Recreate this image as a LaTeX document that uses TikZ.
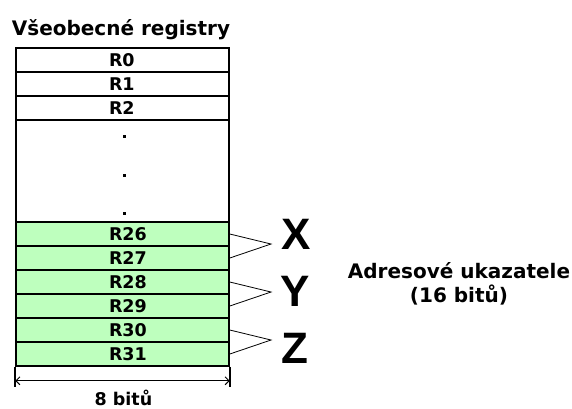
\documentclass[tikz,border=0pt]{standalone}
\usepackage{fontspec}
\setmainfont{DejaVu Sans}
\newfontfamily\bigletters{Liberation Sans}
\usepackage{tikz}
\usetikzlibrary{arrows.meta, positioning}
\definecolor{regfill}{RGB}{190,255,190}

\begin{document}
\begin{tikzpicture}[x=1pt, y=-1pt, line width=1.6pt,
        regbox/.style={draw, minimum width=213pt, minimum height=24pt, inner sep=0pt},
        reglabel/.style={anchor=west, inner sep=0pt, font=\fontsize{17.5}{20}\selectfont\bfseries},
        heading/.style={inner sep=0pt, font=\fontsize{20}{24}\selectfont\bfseries},
        pointer/.style={line width=0.8pt},
        letter/.style={inner sep=0pt, font=\fontsize{44}{48}\selectfont\bigletters\bfseries}]
    \useasboundingbox (0,0) rectangle (572,408);
    \node[heading, anchor=base] (title) at (121,35) {Všeobecné registry};
    % R0--R2 and the gap
    \foreach \n/\y in {0/60, 1/84, 2/108} {
        \node[regbox] (r\n) at (122.5,\y) {};
        \node[reglabel] (l\n) at ([xshift=93pt]r\n.west) {R\n};
    }
    \node[regbox, minimum height=102pt] (gap) at (122.5,171) {};
    \foreach \y in {136.5, 175, 213.5}
        \fill (122.5,\y-1.5) rectangle +(3,3);
    % pointer registers
    \foreach \n/\y in {26/234, 27/258, 28/282, 29/306, 30/330, 31/354} {
        \node[regbox, fill=regfill] (r\n) at (122.5,\y) {};
        \node[reglabel] (l\n) at ([xshift=93pt]r\n.west) {R\n};
    }
    \coordinate (tipx) at (271,244);
    \coordinate (tipy) at (271,292);
    \coordinate (tipz) at (271,340);
    \draw[pointer] (r26.east) -- (tipx) -- (r27.east);
    \draw[pointer] (r28.east) -- (tipy) -- (r29.east);
    \draw[pointer] (r30.east) -- (tipz) -- (r31.east);
    \node[letter] (ptrx) at (296,234) {X};
    \node[letter] (ptry) at (295,291.5) {Y};
    \node[letter] (ptrz) at (295,348) {Z};
    \node[heading, align=center] (addr) at (459,284) {Adresové ukazatele\\(16 bitů)};
    % width of a register
    \draw (r31.south west) -- ++(0,20);
    \draw (r31.south east) -- ++(0,20);
    \coordinate (diml) at ([yshift=-14pt]r31.south west);
    \coordinate (dimr) at ([yshift=-14pt]r31.south east);
    \draw[{Straight Barb[length=4pt,width=8pt]}-{Straight Barb[length=4pt,width=8pt]}, line width=1pt] (diml) -- (dimr);
    \node[reglabel, anchor=base] (bits) at (123.5,405) {8 bitů};
\end{tikzpicture}
\end{document}
